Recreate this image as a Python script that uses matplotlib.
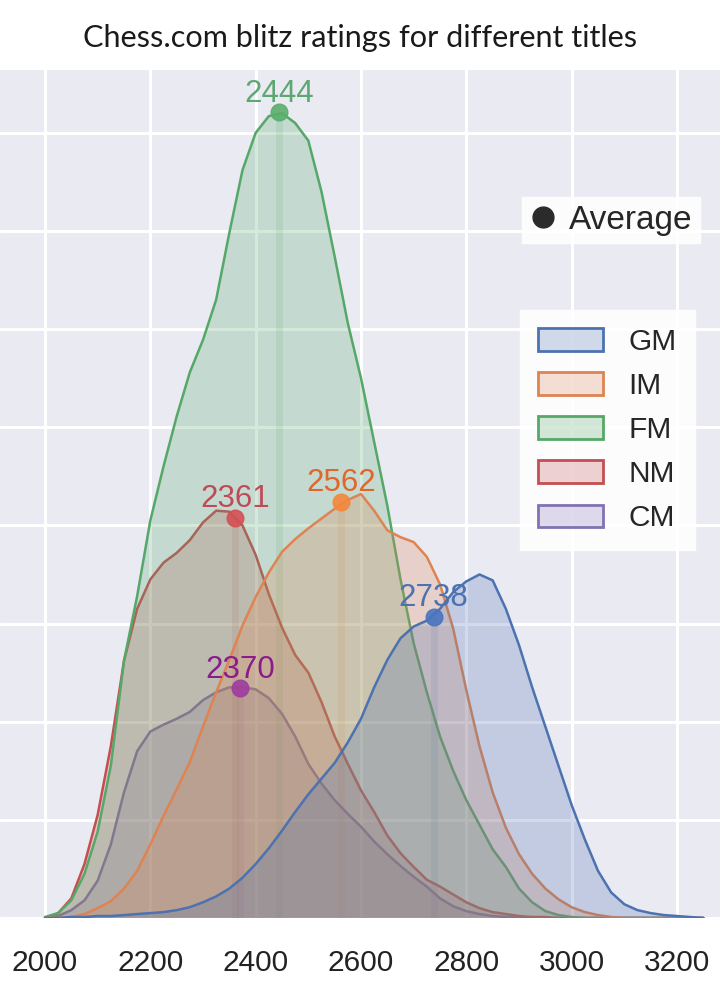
import matplotlib
matplotlib.use("Agg")
import matplotlib.pyplot as plt
from matplotlib.patches import Patch
from matplotlib.lines import Line2D
from matplotlib.colors import to_rgba
import seaborn as sns

# ---------------- data ----------------
rating = [2000, 2025, 2050, 2075, 2100, 2125, 2150, 2175, 2200, 2225,
          2250, 2275, 2300, 2325, 2350, 2375, 2400, 2425, 2450, 2475,
          2500, 2525, 2550, 2575, 2600, 2625, 2650, 2675, 2700, 2725,
          2750, 2775, 2800, 2825, 2850, 2875, 2900, 2925, 2950, 2975,
          3000, 3025, 3050, 3075, 3100, 3125, 3150, 3175, 3200, 3225, 3250]

# estimated KDE density (units of 5e-4 per grid line)
gm_density = [0.00, 0.00, 0.01, 0.01, 0.02, 0.02, 0.03, 0.04, 0.05, 0.06,
              0.08, 0.11, 0.16, 0.22, 0.30, 0.41, 0.55, 0.71, 0.89, 1.08,
              1.26, 1.42, 1.58, 1.79, 2.03, 2.35, 2.63, 2.85, 2.97, 3.03,
              3.15, 3.32, 3.43, 3.50, 3.44, 3.15, 2.78, 2.35, 1.95, 1.55,
              1.15, 0.80, 0.48, 0.26, 0.14, 0.08, 0.05, 0.03, 0.02, 0.01, 0.00]
im_density = [0.00, 0.00, 0.01, 0.04, 0.10, 0.17, 0.30, 0.48, 0.75, 1.04,
              1.31, 1.59, 1.95, 2.30, 2.63, 2.98, 3.27, 3.52, 3.73, 3.86,
              3.97, 4.07, 4.17, 4.26, 4.32, 4.15, 3.95, 3.88, 3.83, 3.68,
              3.40, 2.95, 2.32, 1.75, 1.28, 0.92, 0.65, 0.45, 0.30, 0.19,
              0.11, 0.06, 0.03, 0.01, 0.00, 0.00, 0.00, 0.00, 0.00, 0.00, 0.00]
fm_density = [0.01, 0.05, 0.18, 0.45, 0.88, 1.55, 2.62, 3.28, 4.05, 4.60,
              5.11, 5.56, 5.89, 6.30, 6.98, 7.62, 8.00, 8.17, 8.20, 8.10,
              7.92, 7.40, 6.74, 6.06, 5.50, 4.85, 4.20, 3.45, 2.80, 2.30,
              1.85, 1.50, 1.20, 0.95, 0.70, 0.52, 0.30, 0.16, 0.07, 0.03,
              0.01, 0.00, 0.00, 0.00, 0.00, 0.00, 0.00, 0.00, 0.00, 0.00, 0.00]
nm_density = [0.00, 0.05, 0.20, 0.55, 1.05, 1.75, 2.62, 3.15, 3.45, 3.62,
              3.72, 3.85, 4.03, 4.15, 4.14, 4.00, 3.70, 3.30, 2.96, 2.68,
              2.50, 2.20, 1.85, 1.57, 1.30, 1.08, 0.84, 0.66, 0.52, 0.39,
              0.32, 0.24, 0.16, 0.10, 0.06, 0.04, 0.02, 0.01, 0.01, 0.00,
              0.00, 0.00, 0.00, 0.00, 0.00, 0.00, 0.00, 0.00, 0.00, 0.00, 0.00]
cm_density = [0.00, 0.02, 0.08, 0.18, 0.38, 0.75, 1.28, 1.70, 1.90, 1.97,
              2.03, 2.10, 2.22, 2.30, 2.35, 2.35, 2.33, 2.24, 2.08, 1.85,
              1.57, 1.37, 1.20, 1.06, 0.93, 0.78, 0.65, 0.53, 0.42, 0.32,
              0.20, 0.12, 0.07, 0.04, 0.02, 0.01, 0.01, 0.00, 0.00, 0.00,
              0.00, 0.00, 0.00, 0.00, 0.00, 0.00, 0.00, 0.00, 0.00, 0.00, 0.00]

titles = ["GM", "IM", "FM", "NM", "CM"]
mean_rating = [2738, 2562, 2444, 2361, 2370]
mean_density = [3.07, 4.24, 8.21, 4.08, 2.34]
x_ticks = [2000, 2200, 2400, 2600, 2800, 3000, 3200]
title_text = "Chess.com blitz ratings for different titles"

# ---------------- styles ----------------
line_colors = ["#4C72B0", "#DD8452", "#55A868", "#C44E52", "#8172B3"]
marker_colors = ["#4A74C0", "#F5873A", "#5AAE6C", "#D35055", "#A03CA0"]
label_colors = ["#4C72B0", "#E0662C", "#5DA872", "#BE4C58", "#8B1A8B"]

sns.set_theme(style="darkgrid")
plt.rcParams['font.family'] = ['Liberation Sans', 'DejaVu Sans']

W, H = 720, 981
fig = plt.figure(figsize=(W / 100, H / 100), dpi=100)
ax_bottom = (H - 918) / H
ax_height = (918 - 70) / H
ax = fig.add_axes([0.0, ax_bottom, 1.0, ax_height])
ax.set_facecolor("#EAEAF2")

series = [gm_density, im_density, fm_density, nm_density, cm_density]

# seaborn draws the first hue level on top -> draw in reverse
for i in reversed(range(len(titles))):
    c = line_colors[i]
    ax.vlines(mean_rating[i], 0, mean_density[i], color=marker_colors[i],
              alpha=0.14, lw=5, zorder=1.5)
    ax.fill_between(rating, 0, series[i], facecolor=to_rgba(c, 0.25),
                    edgecolor="none", zorder=2)
    ax.plot(rating, series[i], color=c, lw=1.8, zorder=2,
            solid_joinstyle='round')

for i in range(len(titles)):
    ax.plot(mean_rating[i], mean_density[i], 'o', ms=12,
            color=marker_colors[i], alpha=0.9, zorder=5)
    ax.annotate(str(mean_rating[i]), (mean_rating[i], mean_density[i]),
                xytext=(0, 7.5), textcoords='offset points', ha='center',
                va='baseline', fontsize=22.5, color=label_colors[i], zorder=6)

ax.set_xlim(1914.6, 3281.6)
ax.set_ylim(0, 8.64)
ax.set_xticks(x_ticks)
ax.set_xticklabels([str(t) for t in x_ticks])
ax.set_yticks(range(0, 9))
ax.set_yticklabels([])
ax.tick_params(axis='x', labelsize=21.5, pad=22, length=0, colors="#222222")
ax.tick_params(axis='y', length=0)
ax.grid(True, color="white", lw=2.2)
for s in ax.spines.values():
    s.set_visible(False)

# legend for the average marker
avg_handle = Line2D([], [], marker='o', ls='', color='#2B2B2B', ms=15)
leg1 = ax.legend([avg_handle], ["Average"], loc='upper right',
                 bbox_to_anchor=(0.972, 0.850), borderaxespad=0,
                 fontsize=24, handlelength=0.8, handletextpad=0.38,
                 borderpad=0.22, frameon=True, facecolor='white',
                 edgecolor='white', framealpha=0.9, fancybox=False)
ax.add_artist(leg1)

patches = [Patch(facecolor=to_rgba(c, 0.25), edgecolor=c, lw=2)
           for c in line_colors]
leg2 = ax.legend(patches, titles, loc='upper right',
                 bbox_to_anchor=(0.965, 0.717), borderaxespad=0,
                 fontsize=21.5, handlelength=2.2, handleheight=0.8,
                 handletextpad=0.85, labelspacing=0.54, borderpad=0.6,
                 frameon=True, facecolor='white', edgecolor='white',
                 framealpha=0.9, fancybox=False)

t = fig.text(0.5, 1 - 47 / H, title_text, ha='center', va='baseline',
             fontsize=18, family=['Lato', 'DejaVu Sans'], color="#1a1a1a")
fig.canvas.draw()
w = t.get_window_extent().width
t.set_fontsize(18 * 554 / w)

fig.savefig("out.png", dpi=100)
